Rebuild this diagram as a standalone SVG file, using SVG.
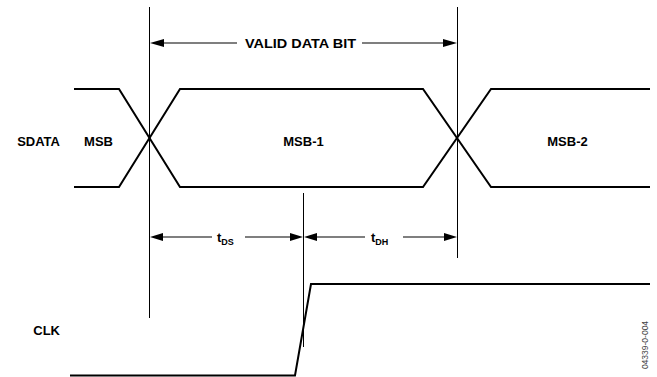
<svg xmlns="http://www.w3.org/2000/svg" width="657" height="377" viewBox="0 0 657 377">
<style>
.lbl{font-family:"Liberation Sans",Arial,sans-serif;font-weight:bold;font-size:13px;fill:#000}
.sub{font-size:9px}
.wave{fill:none;stroke:#000;stroke-width:2;stroke-linejoin:miter}
.ref{stroke:#000;stroke-width:1;fill:none}
.dim{stroke:#000;stroke-width:1.2;fill:none}
.ah{fill:#000}
.code{font-family:"Liberation Sans",Arial,sans-serif;font-size:8.5px;fill:#444}
</style>
<rect width="657" height="377" fill="#fff"/>
<g id="reference-lines">
<line class="ref" x1="149.5" y1="7" x2="149.5" y2="318"/>
<line class="ref" x1="457.5" y1="7" x2="457.5" y2="258"/>
<line class="ref" x1="303.5" y1="193" x2="303.5" y2="347"/>
</g>
<g id="sdata">
<text class="lbl" x="60" y="146" text-anchor="end">SDATA</text>
<polyline class="wave" points="74,89 119,89 180,187 423,187 491,89 650,89"/>
<polyline class="wave" points="74,187 119,187 180,89 423,89 491,187 650,187"/>
<text class="lbl" x="98.5" y="146" text-anchor="middle">MSB</text>
<text class="lbl" x="303.5" y="146" text-anchor="middle">MSB-1</text>
<text class="lbl" x="567.5" y="146" text-anchor="middle">MSB-2</text>
</g>
<g id="clk">
<text class="lbl" x="60" y="335" text-anchor="end">CLK</text>
<polyline class="wave" points="70,375.5 295,375.5 311,284 650,284"/>
</g>
<g id="connectors">
<line class="dim" x1="160" y1="43" x2="237" y2="43"/>
<line class="dim" x1="362" y1="43" x2="446" y2="43"/>
<polygon class="ah" points="150,43 164,39 164,47"/>
<polygon class="ah" points="457,43 443,39 443,47"/>
<line class="dim" x1="160" y1="237" x2="212" y2="237"/>
<line class="dim" x1="245" y1="237" x2="292" y2="237"/>
<polygon class="ah" points="150,237 163,233 163,241"/>
<polygon class="ah" points="303,237 290,233 290,241"/>
<line class="dim" x1="315" y1="237" x2="365" y2="237"/>
<line class="dim" x1="403" y1="237" x2="446" y2="237"/>
<polygon class="ah" points="304,237 317,233 317,241"/>
<polygon class="ah" points="457,237 444,233 444,241"/>
</g>
<g id="labels">
<text class="lbl" x="245" y="48" textLength="111" lengthAdjust="spacingAndGlyphs">VALID DATA BIT</text>
<text class="lbl" x="217" y="242">t<tspan class="sub" dy="2.5">DS</tspan></text>
<text class="lbl" x="371" y="242">t<tspan class="sub" dy="2.5">DH</tspan></text>
<text class="code" transform="translate(648,345) rotate(-90)" text-anchor="middle">04339-0-004</text>
</g>
</svg>
